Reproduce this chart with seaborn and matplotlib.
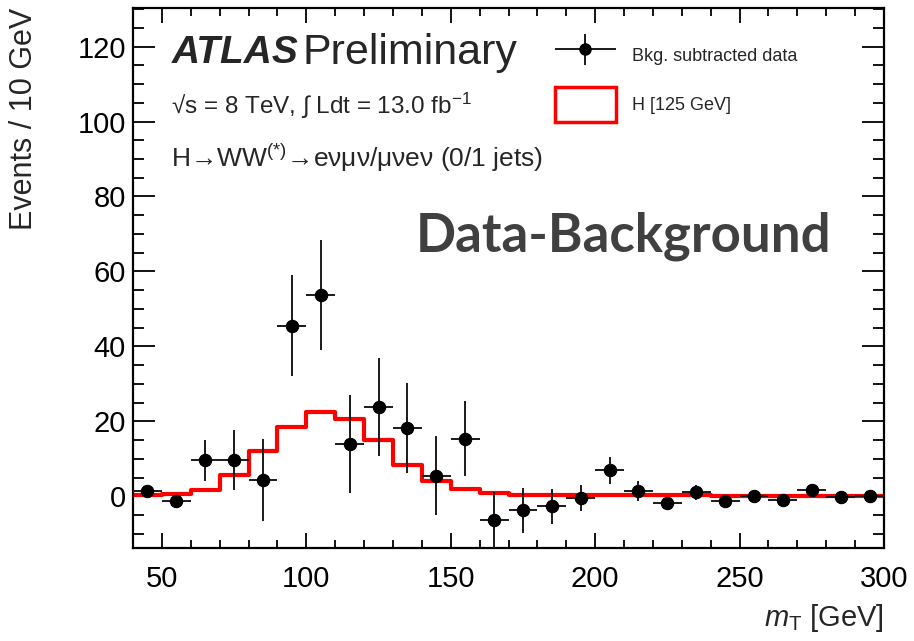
import numpy as np
import pandas as pd
import seaborn as sns
import matplotlib
matplotlib.use("Agg")
import matplotlib.pyplot as plt
from matplotlib.patches import Patch
from matplotlib.container import ErrorbarContainer
from matplotlib.legend_handler import HandlerErrorbar
from matplotlib.ticker import MultipleLocator

# ---- data ----
bin_centers = [45, 55, 65, 75, 85, 95, 105, 115, 125, 135, 145, 155, 165,
               175, 185, 195, 205, 215, 225, 235, 245, 255, 265, 275, 285, 295]
data_values = [1.3, -1.3, 9.6, 9.8, 4.4, 45.5, 53.8, 14.0, 23.8, 18.2, 5.5, 15.3, -6.4,
               -3.7, -2.7, -0.4, 6.9, 1.4, -1.8, 1.1, -1.2, 0.0, -0.9, 1.8, -0.2, 0.0]
data_errors = [1.5, 1.5, 5.4, 8.0, 10.9, 13.5, 14.7, 13.1, 13.1, 12.0, 10.6, 10.0, 7.5,
               6.0, 4.7, 3.5, 3.5, 2.6, 1.0, 2.0, 1.0, 1.0, 1.0, 1.5, 0.8, 0.8]
signal_values = [0.3, 0.7, 1.8, 5.6, 12.0, 18.5, 22.6, 20.7, 15.1, 8.4, 4.1, 2.0, 0.9,
                 0.4, 0.3, 0.3, 0.3, 0.3, 0.3, 0.3, 0.2, 0.2, 0.2, 0.2, 0.2, 0.2]
bin_width = 10
bin_edges = list(range(40, 301, 10))
x_ticks = [50, 100, 150, 200, 250, 300]
y_ticks = [0, 20, 40, 60, 80, 100, 120]

df = pd.DataFrame({"mT": bin_centers, "data": data_values, "err": data_errors,
                   "sig": signal_values})

sns.set_style("ticks")
plt.rcParams["font.family"] = ["Liberation Sans", "DejaVu Sans"]
plt.rcParams["mathtext.fontset"] = "custom"
plt.rcParams["mathtext.rm"] = "Liberation Sans"
plt.rcParams["mathtext.it"] = "Liberation Sans:italic"
plt.rcParams["mathtext.bf"] = "Liberation Sans:bold"

fig = plt.figure(figsize=(9.14, 6.41), dpi=100)
ax = fig.add_axes([133 / 914, 1 - 548 / 641, 751 / 914, 540 / 641])

# signal histogram
sns.histplot(data=df, x="mT", weights="sig", bins=bin_edges, element="step",
             fill=False, color="#ff0000", linewidth=3.0, ax=ax, zorder=2)

# data points
eb = ax.errorbar(df["mT"], df["data"], yerr=df["err"], xerr=bin_width / 2,
                 fmt="o", color="black", ecolor="#1a1a1a", elinewidth=1.4,
                 markersize=8, capsize=0, zorder=3)
sns.scatterplot(data=df, x="mT", y="data", color="black", s=80, edgecolor="black",
                ax=ax, zorder=4, legend=False)

ax.set_xlim(40, 300)
ax.set_ylim(-13.8, 130.3)
ax.set_xticks(x_ticks)
ax.set_yticks(y_ticks)
ax.xaxis.set_minor_locator(MultipleLocator(10))
ax.yaxis.set_minor_locator(MultipleLocator(5))
ax.tick_params(which="both", direction="in", top=True, right=True, width=1.3,
               labelsize=21, colors="black")
ax.tick_params(axis="y", which="major", length=16, pad=5)
ax.tick_params(axis="y", which="minor", length=8)
ax.tick_params(axis="x", which="major", length=11, pad=12)
ax.tick_params(axis="x", which="minor", length=6)
for s in ax.spines.values():
    s.set_linewidth(1.6)
    s.set_color("black")

ax.set_xlabel(r"$m_{\mathrm{T}}$ [GeV]", fontsize=21, loc="right")
ax.set_ylabel("Events / 10 GeV", fontsize=22, loc="top")
ax.xaxis.set_label_coords(1.0, -0.10)
ax.yaxis.set_label_coords(-0.125, 1.0)

# annotations
ax.text(0.052, 0.917, "ATLAS", transform=ax.transAxes, fontsize=28,
        fontweight="bold", fontstyle="italic", va="center", ha="left")
ax.text(0.226, 0.917, "Preliminary", transform=ax.transAxes, fontsize=31,
        va="center", ha="left")
ax.text(0.050, 0.818, "\u221as = 8 TeV, \u222b Ldt = 13.0 fb$^{-1}$",
        transform=ax.transAxes, fontsize=17.5, va="center", ha="left")
ax.text(0.050, 0.722, "H\u2192WW$^{(*)}$\u2192e\u03bd\u03bc\u03bd/\u03bc\u03bde\u03bd (0/1 jets)",
        transform=ax.transAxes, fontsize=19, va="center", ha="left")
ax.text(0.930, 0.578, "Data-Background", transform=ax.transAxes, fontsize=38,
        fontweight="bold", color="#404040", family=["Lato", "DejaVu Sans"],
        va="center", ha="right")

# legend
sig_handle = Patch(facecolor="white", edgecolor="#ff0000", linewidth=2.5)
leg = ax.legend([eb, sig_handle], ["Bkg. subtracted data", "H [125 GeV]"],
                loc="upper left", bbox_to_anchor=(0.540, 0.975), frameon=False,
                fontsize=13, handlelength=3.4, handleheight=2.6, labelspacing=0.8,
                handletextpad=0.9,
                handler_map={ErrorbarContainer: HandlerErrorbar(xerr_size=1.7, yerr_size=0.85)})

fig.savefig("out.png", dpi=100)
